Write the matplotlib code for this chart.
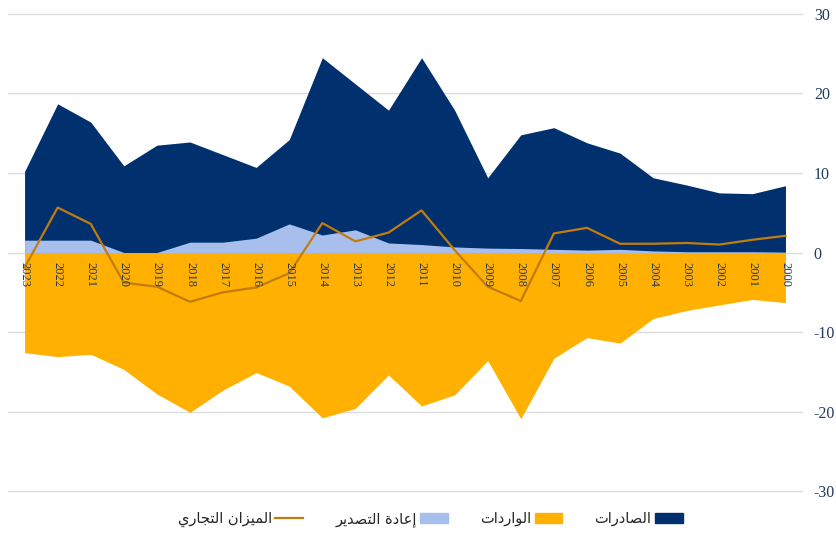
import matplotlib
matplotlib.use("Agg")
import matplotlib.pyplot as plt
from matplotlib.patches import Patch
from matplotlib.lines import Line2D

plt.rcParams["axes.unicode_minus"] = False

years = [2023, 2022, 2021, 2020, 2019, 2018, 2017, 2016, 2015, 2014, 2013, 2012,
         2011, 2010, 2009, 2008, 2007, 2006, 2005, 2004, 2003, 2002, 2001, 2000]
exports = [10.2, 18.7, 16.4, 10.9, 13.5, 13.9, 12.3, 10.7, 14.2, 24.5, 21.2, 17.9,
           24.5, 17.9, 9.4, 14.8, 15.7, 13.8, 12.5, 9.4, 8.5, 7.5, 7.4, 8.4]
reexports = [1.55, 1.55, 1.55, 0.0, 0.0, 1.3, 1.3, 1.8, 3.6, 2.2, 2.85, 1.2,
             1.0, 0.7, 0.55, 0.5, 0.4, 0.3, 0.4, 0.2, 0.1, 0.1, 0.1, 0.05]
imports = [-12.6, -13.1, -12.8, -14.7, -17.8, -20.1, -17.3, -15.1, -16.8, -20.8, -19.6, -15.4,
           -19.3, -17.9, -13.6, -20.9, -13.3, -10.7, -11.4, -8.3, -7.3, -6.6, -5.9, -6.3]
balance = [-1.9, 5.65, 3.6, -3.8, -4.3, -6.2, -5.0, -4.4, -2.6, 3.7, 1.4, 2.5,
           5.3, 0.3, -4.3, -6.1, 2.4, 3.1, 1.1, 1.1, 1.2, 1.0, 1.6, 2.1]

lbl_exports = "الصادرات"
lbl_imports = "الواردات"
lbl_reexports = "إعادة التصدير"
lbl_balance = "الميزان التجاري"

NAVY = "#00306e"
ORANGE = "#ffb000"
LIGHTBLUE = "#a8bfee"
LINECOL = "#c27c0e"
TEXTBLUE = "#1f3864"

# matplotlib has no arabic shaping, so pick the contextual forms by hand
# (iso, fin, ini, med); None means the letter only joins to the right
FORMS = {
    "ا": (0xFE8D, 0xFE8E, None, None),
    "إ": (0xFE87, 0xFE88, None, None),
    "ة": (0xFE93, 0xFE94, None, None),
    "د": (0xFEA9, 0xFEAA, None, None),
    "ر": (0xFEAD, 0xFEAE, None, None),
    "ز": (0xFEAF, 0xFEB0, None, None),
    "و": (0xFEED, 0xFEEE, None, None),
    "ت": (0xFE95, 0xFE96, 0xFE97, 0xFE98),
    "ج": (0xFE9D, 0xFE9E, 0xFE9F, 0xFEA0),
    "ص": (0xFEB9, 0xFEBA, 0xFEBB, 0xFEBC),
    "ع": (0xFEC9, 0xFECA, 0xFECB, 0xFECC),
    "ل": (0xFEDD, 0xFEDE, 0xFEDF, 0xFEE0),
    "م": (0xFEE1, 0xFEE2, 0xFEE3, 0xFEE4),
    "ن": (0xFEE5, 0xFEE6, 0xFEE7, 0xFEE8),
    "ي": (0xFEF1, 0xFEF2, 0xFEF3, 0xFEF4),
}


def shape(text):
    out = []
    for i, ch in enumerate(text):
        if ch not in FORMS:
            out.append(ch)
            continue
        prev = text[i - 1] if i > 0 else " "
        nxt = text[i + 1] if i < len(text) - 1 else " "
        join_prev = prev in FORMS and FORMS[prev][2] is not None
        join_next = FORMS[ch][2] is not None and nxt in FORMS
        iso, fin, ini, med = FORMS[ch]
        if join_prev and join_next:
            out.append(chr(med))
        elif join_prev:
            out.append(chr(fin))
        elif join_next:
            out.append(chr(ini))
        else:
            out.append(chr(iso))
    return "".join(out)[::-1]


fig = plt.figure(figsize=(8.37, 5.34), dpi=100)
ax = fig.add_axes([0.0096, 0.0805, 0.9486, 0.8933])

x = list(range(len(years)))
ax.fill_between(x, 0, imports, color=ORANGE, lw=0, zorder=2)
ax.fill_between(x, 0, exports, color=NAVY, lw=0, zorder=3)
ax.fill_between(x, 0, reexports, color=LIGHTBLUE, lw=0, zorder=4)
ax.plot(x, balance, color=LINECOL, lw=1.6, zorder=5)

for i, yr in enumerate(years):
    ax.annotate(str(yr), xy=(i, 0), xytext=(0, -7), textcoords="offset points",
                rotation=270, ha="center", va="top", fontsize=9,
                family="Liberation Serif", color=TEXTBLUE, zorder=6)

ax.set_xlim(-0.5, len(years) - 0.5)
ax.set_ylim(-30, 30)
ax.set_yticks([-30, -20, -10, 0, 10, 20, 30])
ax.yaxis.tick_right()
ax.tick_params(axis="y", length=0, pad=8.5, labelsize=11.5, labelcolor=TEXTBLUE)
for t in ax.get_yticklabels():
    t.set_family("Liberation Serif")
ax.set_xticks([])
ax.grid(axis="y", color="#dcdcdc", lw=1, zorder=0)
for gl in ax.get_ygridlines():
    gl.set_clip_on(False)
ax.set_axisbelow(True)
for s in ax.spines.values():
    s.set_visible(False)

handles = [
    Line2D([], [], color=LINECOL, lw=1.6),
    Patch(color=LIGHTBLUE),
    Patch(color=ORANGE),
    Patch(color=NAVY),
]
labels = [shape(lbl_balance), shape(lbl_reexports), shape(lbl_imports), shape(lbl_exports)]
fig.legend(handles, labels, loc="center", bbox_to_anchor=(0.514, 0.028), ncol=4,
           frameon=False, markerfirst=False, handlelength=1.9, handleheight=0.65,
           handletextpad=0.25, columnspacing=2.2,
           prop={"family": "DejaVu Sans", "size": 10.5}, labelcolor="#262626")

fig.savefig("out.png", dpi=100)
